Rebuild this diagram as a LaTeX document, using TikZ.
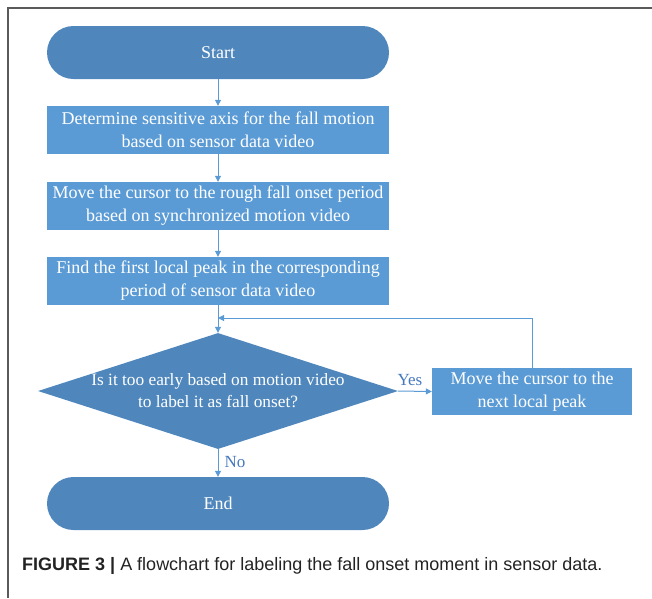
\documentclass[tikz,border=0pt]{standalone}
\usepackage{fontspec}
\setmainfont{Liberation Serif}
\newfontfamily\capfont{Liberation Sans}
\usetikzlibrary{arrows.meta,shapes.geometric}
\definecolor{termblue}{RGB}{79,135,189}
\definecolor{boxblue}{RGB}{91,155,213}
\definecolor{lineblue}{RGB}{91,155,213}
\definecolor{lblblue}{RGB}{70,120,190}
\definecolor{framegray}{RGB}{90,90,90}
\definecolor{captext}{RGB}{35,35,35}
\tikzset{
  terminal/.style={rectangle, rounded corners=26.5pt, fill=termblue, minimum width=342pt, minimum height=53pt, inner sep=0pt, text=white, font=\fontsize{18}{23}\selectfont},
  procbox/.style={rectangle, fill=boxblue, minimum width=342pt, minimum height=48pt, inner sep=0pt, text=white, align=center, font=\fontsize{18}{23}\selectfont},
  sidebox/.style={rectangle, fill=boxblue, minimum width=200pt, minimum height=47pt, inner sep=0pt, text=white, align=center, font=\fontsize{18}{23}\selectfont},
  decision/.style={diamond, fill=termblue, minimum width=360pt, minimum height=116pt, inner sep=0pt},
  dtext/.style={text=white, align=center, font=\fontsize{17.3}{22}\selectfont, inner sep=0pt},
  flow/.style={draw=lineblue, line width=1pt, -{Triangle[width=6pt,length=6pt]}},
  branchlbl/.style={text=lblblue, font=\fontsize{17}{20}\selectfont, inner sep=0pt},
  captionstyle/.style={anchor=west, inner sep=0pt, text=captext, font=\capfont\fontsize{18}{21}\selectfont},
}
\begin{document}
\begin{tikzpicture}[x=1pt,y=-1pt]
\useasboundingbox (0,0) rectangle (652,598);
\draw[framegray, line width=1.2pt] (652,8) -- (8,8) -- (8,598);

\node[terminal] (start) at (218,52.5) {Start};
\node[procbox] (b1) at (218,130) {Determine sensitive axis for the fall motion\\based on sensor data video};
\node[procbox] (b2) at (218,206) {Move the cursor to the rough fall onset period\\based on synchronized motion video};
\node[procbox] (b3) at (218,281) {Find the first local peak in the corresponding\\period of sensor data video};
\node[decision, label={[dtext]center:Is it too early based on motion video\\to label it as fall onset?}] (dec) at (218,391) {};
\node[sidebox] (mv) at (532,391.5) {Move the cursor to the\\next local peak};
\node[terminal] (end) at (218,503.5) {End};
\coordinate (join) at (218,318);

\draw[flow] (start) -- (b1);
\draw[flow] (b1) -- (b2);
\draw[flow] (b2) -- (b3);
\draw[flow] (b3) -- (dec.north);
\draw[flow] (dec.east) -- node[branchlbl, above=5pt, pos=0.35] (yes) {Yes} (mv.west);
\draw[flow] (dec.south) -- node[branchlbl, right=6pt, pos=0.45] (no) {No} (end.north);
\draw[flow] (mv.north) |- (join);

\node[captionstyle] (cap) at (22,566) {\textbf{FIGURE 3 |} A flowchart for labeling the fall onset moment in sensor data.};
\end{tikzpicture}
\end{document}
